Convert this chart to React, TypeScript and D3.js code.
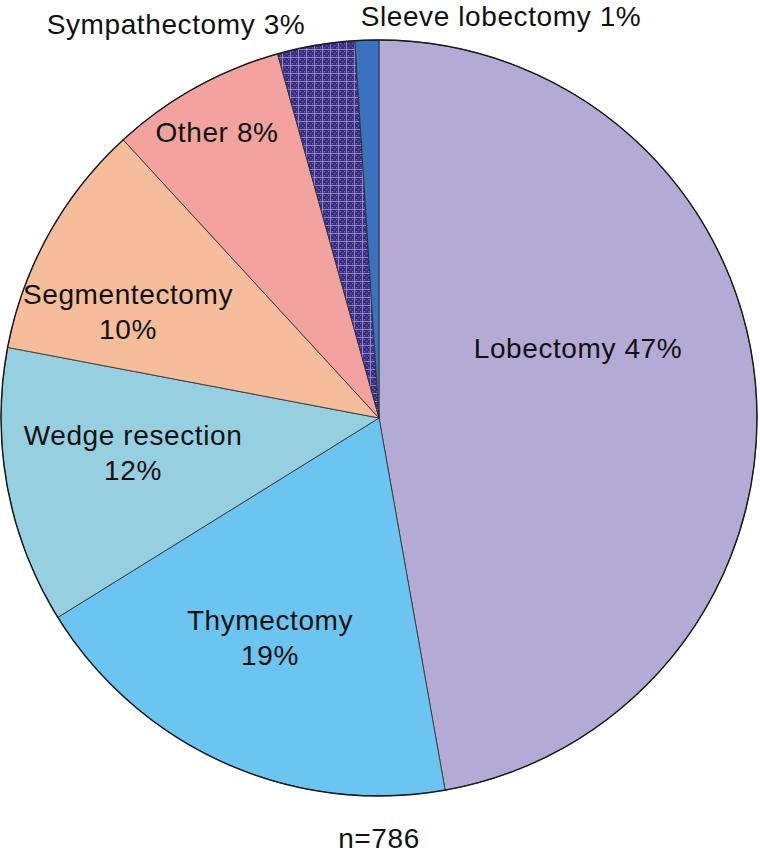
import { useEffect, useRef } from "react";
import * as d3 from "d3";

// procedure counts (n=786), drawn clockwise from 12 o'clock
const procedures = [
  "Lobectomy",
  "Thymectomy",
  "Wedge resection",
  "Segmentectomy",
  "Other",
  "Sympathectomy",
  "Sleeve lobectomy",
];
const counts = [371, 149, 93, 80, 59, 26, 8];
const percentLabels = ["47%", "19%", "12%", "10%", "8%", "3%", "1%"];
const sliceColors = [
  "#b3abd5",
  "#6cc5f0",
  "#96d0e0",
  "#f6bd9c",
  "#f2a3a0",
  "url(#checker)",
  "#3b72c0",
];

const W = 760;
const H = 856;

export default function App() {
  const svgRef = useRef<SVGSVGElement>(null);

  useEffect(() => {
    if (!svgRef.current) return;
    const svg = d3.select(svgRef.current);
    svg.selectAll("*").remove();

    const cx = 379;
    const cy = 418;
    const r = 378;

    const defs = svg.append("defs");
    const pat = defs
      .append("pattern")
      .attr("id", "checker")
      .attr("patternUnits", "userSpaceOnUse")
      .attr("width", 8)
      .attr("height", 8);
    pat.append("rect").attr("width", 8).attr("height", 8).attr("fill", "#3a2c7c");
    [0, 2, 4].forEach((px) =>
      [0, 2, 4].forEach((py) => {
        if ((px + py) % 4 === 0)
          pat
            .append("rect")
            .attr("x", px + 1)
            .attr("y", py + 1)
            .attr("width", 1.3)
            .attr("height", 1.3)
            .attr("fill", "#6a5fb0");
      })
    );
    pat
      .append("path")
      .attr("d", "M7.5,0V8M0,7.5H8")
      .attr("stroke", "#a9a0dc")
      .attr("stroke-width", 0.8);

    const data = procedures.map((name, i) => ({
      name,
      count: counts[i],
      label: percentLabels[i],
      color: sliceColors[i],
    }));

    const pie = d3
      .pie<(typeof data)[number]>()
      .value((d) => d.count)
      .sort(null);
    const arc = d3
      .arc<d3.PieArcDatum<(typeof data)[number]>>()
      .innerRadius(0)
      .outerRadius(r);

    const g = svg.append("g").attr("transform", `translate(${cx},${cy})`);
    g.selectAll("path.slice")
      .data(pie(data))
      .join("path")
      .attr("class", "slice")
      .attr("d", arc)
      .attr("fill", (d) => d.data.color)
      .attr("stroke", "#2a2a2a")
      .attr("stroke-width", 0.8);

    g.append("circle")
      .attr("r", r)
      .attr("fill", "none")
      .attr("stroke", "#1a1a1a")
      .attr("stroke-width", 1.4);

    // label positions relative to the pie centre
    const labels: { lines: string[]; x: number; y: number }[] = [
      { lines: [`${procedures[0]} ${percentLabels[0]}`], x: 199, y: -70 },
      { lines: [procedures[1], percentLabels[1]], x: -109, y: 220 },
      { lines: [procedures[2], percentLabels[2]], x: -246, y: 35 },
      { lines: [procedures[3], percentLabels[3]], x: -251, y: -106 },
      { lines: [`${procedures[4]} ${percentLabels[4]}`], x: -162, y: -286 },
      { lines: [`${procedures[5]} ${percentLabels[5]}`], x: -203, y: -394 },
      { lines: [`${procedures[6]} ${percentLabels[6]}`], x: 122, y: -402 },
    ];

    labels.forEach((l) => {
      const t = g
        .append("text")
        .attr("text-anchor", "middle")
        .attr("font-family", "Liberation Sans, Arial, sans-serif")
        .attr("font-size", 28)
        .attr("letter-spacing", 0.6)
        .attr("fill", "#111");
      const n = l.lines.length;
      l.lines.forEach((line, i) => {
        t.append("tspan")
          .attr("x", l.x)
          .attr("y", l.y + (i - (n - 1) / 2) * 35)
          .attr("dy", "0.35em")
          .text(line);
      });
    });

    svg
      .append("text")
      .attr("x", cx)
      .attr("y", 838)
      .attr("dy", "0.35em")
      .attr("text-anchor", "middle")
      .attr("font-family", "Liberation Sans, Arial, sans-serif")
      .attr("font-size", 28)
      .attr("letter-spacing", 0.6)
      .attr("fill", "#111")
      .text(`n=${d3.sum(counts)}`);
  }, []);

  return (
    <div style={{ position: "absolute", left: 0, top: 0 }}>
      <svg ref={svgRef} width={W} height={H} style={{ display: "block", background: "#fff" }} />
    </div>
  );
}
